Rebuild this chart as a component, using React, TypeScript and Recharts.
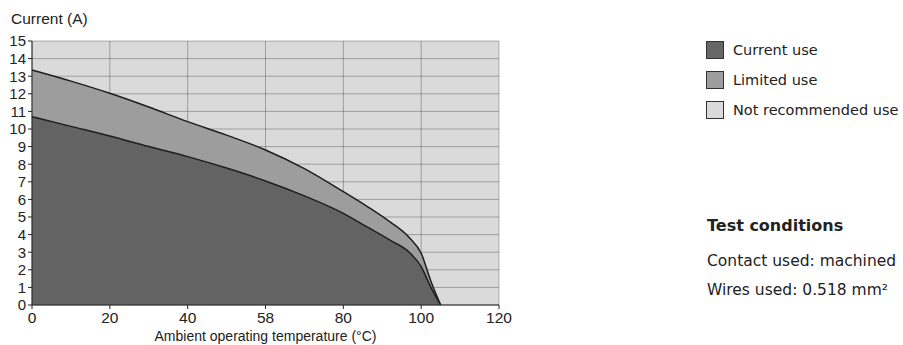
import React from "react";
import { AreaChart, Area, XAxis, YAxis, CartesianGrid, Label } from "recharts";

const temps = [0, 10, 20, 30, 40, 50, 60, 70, 80, 86, 92, 97, 100, 102.5, 105];
const limitedUse = [13.35, 12.72, 12.03, 11.25, 10.42, 9.65, 8.81, 7.75, 6.44, 5.62, 4.72, 3.82, 2.94, 1.35, 0];
const currentUse = [10.7, 10.15, 9.6, 9.0, 8.43, 7.78, 7.05, 6.2, 5.21, 4.45, 3.68, 2.98, 2.18, 1.0, 0];

const xTicks = [0, 20, 40, 60, 80, 100, 120];
const xTickLabels = ["0", "20", "40", "58", "80", "100", "120"];
const yTicks = [0, 1, 2, 3, 4, 5, 6, 7, 8, 9, 10, 11, 12, 13, 14, 15];

const legendItems = [
  { label: "Current use", color: "#666666" },
  { label: "Limited use", color: "#9d9d9d" },
  { label: "Not recommended use", color: "#dadada" },
];
const testTitle = "Test conditions";
const testLines = ["Contact used: machined", "Wires used: 0.518 mm²"];

const data = temps.map((t, i) => ({ t, limited: limitedUse[i], current: currentUse[i] }));

const FONT = "'Liberation Sans', Arial, Helvetica, sans-serif";
const WIDE = "'DejaVu Sans', Verdana, sans-serif";

export default function App() {
  return (
    <div style={{ position: "absolute", left: 0, top: 0, width: 903, height: 345, background: "#fff", fontFamily: FONT, color: "#222" }}>
      <div style={{ position: "absolute", left: 11, top: 10, fontSize: 15.5, lineHeight: "18px" }}>Current (A)</div>
      <AreaChart
        width={903}
        height={345}
        data={data}
        margin={{ top: 41, right: 404, bottom: 0, left: 0 }}
        style={{ fontFamily: FONT }}
      >
        <CartesianGrid fill="#dadada" stroke="none" />
        <Area type="monotone" dataKey="limited" stroke="#1e1e1e" strokeWidth={1.5} fill="#9d9d9d" fillOpacity={1} isAnimationActive={false} dot={false} activeDot={false} />
        <Area type="monotone" dataKey="current" stroke="#1e1e1e" strokeWidth={1.5} fill="#636363" fillOpacity={1} isAnimationActive={false} dot={false} activeDot={false} />
        <CartesianGrid stroke="rgba(0,0,0,0.28)" strokeWidth={1} fill="none" />
        <XAxis
          dataKey="t"
          type="number"
          domain={[0, 120]}
          ticks={xTicks}
          interval={0}
          tickFormatter={(v) => xTickLabels[xTicks.indexOf(v)] ?? String(v)}
          height={40}
          tickSize={4}
          tickMargin={3}
          stroke="#222"
          tick={{ fill: "#222", fontSize: 15.5 }}
        >
          <Label value="Ambient operating temperature (°C)" position="insideBottom" offset={4} style={{ fill: "#222", fontSize: 14 }} />
        </XAxis>
        <YAxis
          type="number"
          domain={[0, 15]}
          ticks={yTicks}
          interval={0}
          width={32}
          tickSize={4}
          tickMargin={2}
          stroke="#222"
          tick={{ fill: "#222", fontSize: 15 }}
        />
      </AreaChart>
      {legendItems.map((it, i) => (
        <div key={it.label} style={{ position: "absolute", left: 706, top: 41 + i * 30, display: "flex", alignItems: "center" }}>
          <div style={{ width: 16, height: 16, background: it.color, border: "1px solid #333" }} />
          <div style={{ marginLeft: 9, fontSize: 14.5, lineHeight: "18px", fontFamily: WIDE }}>{it.label}</div>
        </div>
      ))}
      <div style={{ position: "absolute", left: 707, top: 217, fontSize: 16, fontWeight: "bold", lineHeight: "18px", fontFamily: WIDE }}>{testTitle}</div>
      {testLines.map((s, i) => (
        <div key={s} style={{ position: "absolute", left: 707, top: 252 + i * 29, fontSize: 15.5, lineHeight: "18px", fontFamily: WIDE }}>{s}</div>
      ))}
    </div>
  );
}
